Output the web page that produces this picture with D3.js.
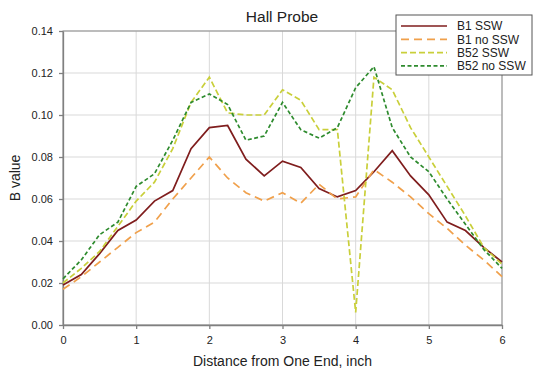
<!DOCTYPE html>
<html>
<head>
<meta charset="utf-8">
<script src="https://cdn.jsdelivr.net/npm/d3@7"></script>
<style>
  body { margin: 0; background: #fff; }
  text { font-family: "Liberation Sans", Arial, sans-serif; fill: #222; }
</style>
</head>
<body>
<div id="chart"></div>
<script>
const distance = [0, 0.25, 0.5, 0.75, 1, 1.25, 1.5, 1.75, 2, 2.25, 2.5, 2.75, 3,
                  3.25, 3.5, 3.75, 4, 4.25, 4.5, 4.75, 5, 5.25, 5.5, 5.75, 6];

const b1Ssw     = [0.019, 0.024, 0.034, 0.045, 0.050, 0.059, 0.064, 0.084, 0.094, 0.095, 0.079, 0.071, 0.078,
                   0.075, 0.065, 0.061, 0.064, 0.073, 0.083, 0.071, 0.062, 0.049, 0.045, 0.037, 0.030];
const b1NoSsw   = [0.017, 0.023, 0.030, 0.037, 0.044, 0.049, 0.060, 0.070, 0.080, 0.070, 0.063, 0.059, 0.063,
                   0.058, 0.067, 0.060, 0.061, 0.074, 0.068, 0.061, 0.053, 0.046, 0.038, 0.031, 0.023];
const b52Ssw    = [0.020, 0.027, 0.035, 0.047, 0.059, 0.068, 0.084, 0.106, 0.118, 0.101, 0.100, 0.100, 0.112,
                   0.107, 0.093, 0.093, 0.006, 0.118, 0.112, 0.094, 0.080, 0.066, 0.052, 0.037, 0.029];
const b52NoSsw  = [0.022, 0.031, 0.043, 0.049, 0.066, 0.072, 0.088, 0.106, 0.110, 0.105, 0.088, 0.090, 0.106,
                   0.093, 0.089, 0.094, 0.113, 0.123, 0.094, 0.080, 0.073, 0.060, 0.048, 0.036, 0.027];

const seriesNames = ["B1 SSW", "B1 no SSW", "B52 SSW", "B52 no SSW"];
const seriesValues = [b1Ssw, b1NoSsw, b52Ssw, b52NoSsw];
const colors = ["#7f1d1d", "#f0a04b", "#c9cf3a", "#2e8b2e"];
const dashes = [null, "8,5", "6,3", "4,2.5"];

const xTicks = [0, 1, 2, 3, 4, 5, 6];
const yTicks = [0, 0.02, 0.04, 0.06, 0.08, 0.10, 0.12, 0.14];

const W = 533, H = 374;
const margin = {top: 31, right: 31, bottom: 49, left: 63};
const width = W - margin.left - margin.right;
const height = H - margin.top - margin.bottom;

const svg = d3.select("#chart").append("svg")
    .attr("width", W)
    .attr("height", H);

const g = svg.append("g")
    .attr("transform", `translate(${margin.left}, ${margin.top})`);

const x = d3.scaleLinear().domain([0, 6]).range([0, width]);
const y = d3.scaleLinear().domain([0, 0.14]).range([height, 0]);

// gridlines
g.append("g").selectAll("line.h")
    .data(yTicks)
  .enter().append("line")
    .attr("x1", 0).attr("x2", width)
    .attr("y1", d => y(d)).attr("y2", d => y(d))
    .style("stroke", "#d9d9d9");

g.append("g").selectAll("line.v")
    .data(xTicks)
  .enter().append("line")
    .attr("y1", 0).attr("y2", height)
    .attr("x1", d => x(d)).attr("x2", d => x(d))
    .style("stroke", "#d9d9d9");

// plot frame
g.append("rect")
    .attr("width", width).attr("height", height)
    .style("fill", "none")
    .style("stroke", "#8c8c8c");

const xAxis = d3.axisBottom(x).tickValues(xTicks).tickSize(4).tickSizeOuter(0).tickFormat(d3.format("d"));
const yAxis = d3.axisLeft(y).tickValues(yTicks).tickSize(4).tickSizeOuter(0).tickFormat(d3.format(".2f"));

g.append("g")
    .attr("transform", `translate(0, ${height})`)
    .call(xAxis)
    .call(a => a.selectAll("path, line").style("stroke", "#808080").style("stroke-width", 1.3))
    .call(a => a.selectAll("text").attr("dy", "1.1em").style("font-size", "11px")
        .style("font-family", "Liberation Sans, Arial, sans-serif").style("fill", "#222"));

g.append("g")
    .call(yAxis)
    .call(a => a.selectAll("path, line").style("stroke", "#808080").style("stroke-width", 1.3))
    .call(a => a.selectAll("text").attr("x", -10).style("font-size", "11px")
        .style("font-family", "Liberation Sans, Arial, sans-serif").style("fill", "#222"));

// lines
const line = d3.line()
    .x((d, i) => x(distance[i]))
    .y(d => y(d));

g.selectAll("path.series")
    .data(seriesValues)
  .enter().append("path")
    .attr("class", "series")
    .attr("d", line)
    .style("fill", "none")
    .style("stroke", (d, i) => colors[i])
    .style("stroke-width", 1.7)
    .style("stroke-dasharray", (d, i) => dashes[i]);

// titles
svg.append("text")
    .attr("x", 282).attr("y", 22)
    .attr("text-anchor", "middle")
    .style("font-size", "15.5px")
    .text("Hall Probe");

svg.append("text")
    .attr("x", margin.left + width / 2).attr("y", 366)
    .attr("text-anchor", "middle")
    .style("font-size", "14px")
    .text("Distance from One End, inch");

svg.append("text")
    .attr("transform", `translate(20, ${margin.top + height / 2}) rotate(-90)`)
    .attr("text-anchor", "middle")
    .style("font-size", "14px")
    .text("B value");

// legend
const legend = svg.append("g").attr("transform", "translate(396, 15)");
legend.append("rect")
    .attr("width", 136).attr("height", 60)
    .style("fill", "#fff")
    .style("stroke", "#555");

const item = legend.selectAll("g.item")
    .data(seriesNames)
  .enter().append("g")
    .attr("transform", (d, i) => `translate(0, ${11 + i * 13.3})`);

item.append("line")
    .attr("x1", 5).attr("x2", 51)
    .style("stroke", (d, i) => colors[i])
    .style("stroke-width", 1.7)
    .style("stroke-dasharray", (d, i) => dashes[i]);

item.append("text")
    .attr("x", 61).attr("dy", "0.35em")
    .style("font-size", "12px")
    .text(d => d);
</script>
</body>
</html>
